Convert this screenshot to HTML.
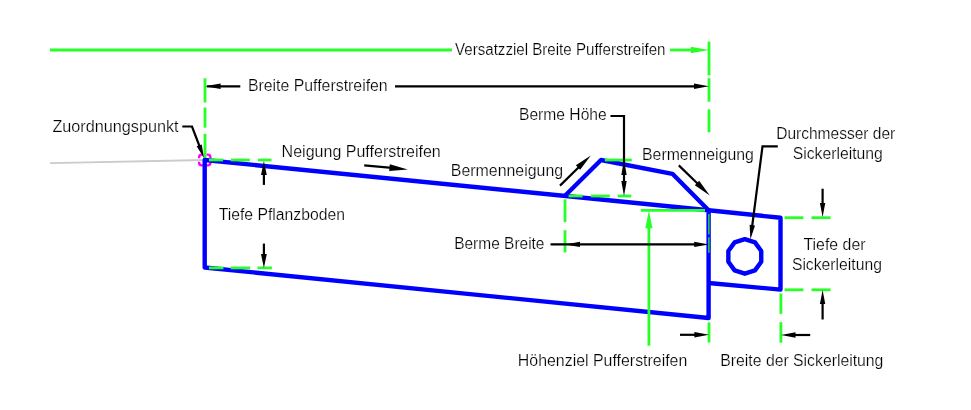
<!DOCTYPE html>
<html><head><meta charset="utf-8"><style>
html,body{margin:0;padding:0;background:#fff;}
svg{display:block;}
text{font-family:"Liberation Sans",sans-serif;font-size:16px;fill:#000000;stroke:#fff;stroke-width:0.22px;paint-order:fill stroke;}
</style></head><body>
<svg width="971" height="410" viewBox="0 0 971 410">
<rect width="971" height="410" fill="#fff"/>
<line x1="50" y1="163.2" x2="205" y2="160" stroke="#cbcbcb" stroke-width="1.8" />
<path d="M199.1,158.2 L199.1,157.2 Q199.1,154.6 201.7,154.6 L202.95,154.6 M206.55,154.6 L207.8,154.6 Q210.4,154.6 210.4,157.2 L210.4,158.2 M210.4,161.8 L210.4,162.8 Q210.4,165.4 207.8,165.4 L206.55,165.4 M202.95,165.4 L201.7,165.4 Q199.1,165.4 199.1,162.8 L199.1,161.8" fill="none" stroke="#ff00ff" stroke-width="2.4"/>
<line x1="50" y1="50" x2="452" y2="50" stroke="#28ff28" stroke-width="2.8" />
<line x1="670" y1="50" x2="692" y2="50" stroke="#28ff28" stroke-width="2.8" />
<path transform="translate(709.00,50.00) rotate(0.00)" d="M0,0 L-18.20,-3.2 L-18.20,3.2 Z" fill="#28ff28"/>
<line x1="709" y1="41.6" x2="709" y2="75.3" stroke="#28ff28" stroke-width="2.8" />
<line x1="709" y1="78.2" x2="709" y2="101.7" stroke="#28ff28" stroke-width="2.8" />
<line x1="709" y1="109.4" x2="709" y2="132.2" stroke="#28ff28" stroke-width="2.8" />
<line x1="205" y1="78.3" x2="205" y2="102.5" stroke="#28ff28" stroke-width="2.8" />
<line x1="205" y1="107.5" x2="205" y2="127.7" stroke="#28ff28" stroke-width="2.8" />
<line x1="205" y1="133.9" x2="205" y2="158.5" stroke="#28ff28" stroke-width="2.8" />
<polygon points="204.7,160 708.6,210.3 708.6,318 204.7,267.5" fill="none" stroke="#0000ff" stroke-width="4.4" stroke-linejoin="round" />
<polyline points="565,195.7 601,160 672.4,173.8 708.6,210.3" fill="none" stroke="#0000ff" stroke-width="4.4" stroke-linejoin="round" />
<polyline points="708.6,210.3 780.5,217.8 780.5,289.6 708.6,283" fill="none" stroke="#0000ff" stroke-width="4.4" stroke-linejoin="round" />
<polygon points="744.8,239.1 734.63,242.4 728.35,251.05 728.35,261.75 734.63,270.4 744.8,273.7 754.97,270.4 761.25,261.75 761.25,251.05 754.97,242.4" fill="none" stroke="#0000ff" stroke-width="4.4" stroke-linejoin="round" />
<line x1="209" y1="160" x2="223" y2="160" stroke="#28ff28" stroke-width="2.8" />
<line x1="230.9" y1="160" x2="249.8" y2="160" stroke="#28ff28" stroke-width="2.8" />
<line x1="258" y1="160" x2="271.5" y2="160" stroke="#28ff28" stroke-width="2.8" />
<line x1="209" y1="267.9" x2="223.5" y2="267.9" stroke="#28ff28" stroke-width="2.8" />
<line x1="230.7" y1="267.9" x2="250.2" y2="267.9" stroke="#28ff28" stroke-width="2.8" />
<line x1="257.5" y1="267.9" x2="271.9" y2="267.9" stroke="#28ff28" stroke-width="2.8" />
<line x1="568.6" y1="196" x2="582.7" y2="196" stroke="#28ff28" stroke-width="2.8" />
<line x1="590.9" y1="196" x2="609.8" y2="196" stroke="#28ff28" stroke-width="2.8" />
<line x1="617.7" y1="196" x2="631.3" y2="196" stroke="#28ff28" stroke-width="2.8" />
<line x1="604.8" y1="160" x2="631.8" y2="160" stroke="#28ff28" stroke-width="2.8" />
<line x1="784.6" y1="217.7" x2="803.4" y2="217.7" stroke="#28ff28" stroke-width="2.8" />
<line x1="811.5" y1="217.7" x2="830.6" y2="217.7" stroke="#28ff28" stroke-width="2.8" />
<line x1="784.6" y1="289.8" x2="803.4" y2="289.8" stroke="#28ff28" stroke-width="2.8" />
<line x1="811.5" y1="289.8" x2="830.6" y2="289.8" stroke="#28ff28" stroke-width="2.8" />
<line x1="640.8" y1="210.4" x2="705" y2="210.4" stroke="#28ff28" stroke-width="2.8" />
<line x1="565" y1="199.4" x2="565" y2="222.1" stroke="#28ff28" stroke-width="2.8" />
<line x1="565" y1="230.2" x2="565" y2="252.4" stroke="#28ff28" stroke-width="2.8" />
<line x1="708.9" y1="213.9" x2="708.9" y2="234.4" stroke="#28ff28" stroke-width="1.3" />
<line x1="708.9" y1="237.3" x2="708.9" y2="252.7" stroke="#28ff28" stroke-width="1.3" />
<line x1="709" y1="322.4" x2="709" y2="342.5" stroke="#28ff28" stroke-width="2.8" />
<line x1="780.9" y1="293.5" x2="780.9" y2="313.9" stroke="#28ff28" stroke-width="2.8" />
<line x1="780.9" y1="322.2" x2="780.9" y2="342.7" stroke="#28ff28" stroke-width="2.8" />
<line x1="648.9" y1="226" x2="648.9" y2="345.7" stroke="#28ff28" stroke-width="2.8" />
<path transform="translate(648.90,210.40) rotate(-90.00)" d="M0,0 L-17.90,-3.6 L-17.90,3.6 Z" fill="#28ff28"/>
<line x1="207" y1="86.3" x2="240.3" y2="86.3" stroke="#000000" stroke-width="2.2" />
<path transform="translate(205.00,86.30) rotate(180.00)" d="M0,0 L-15.60,-2.7 L-15.60,2.7 Z" fill="#000000"/>
<line x1="395" y1="86.3" x2="696" y2="86.3" stroke="#000000" stroke-width="2.2" />
<path transform="translate(709.00,86.30) rotate(0.00)" d="M0,0 L-15.00,-2.7 L-15.00,2.7 Z" fill="#000000"/>
<polyline points="182.3,126.5 192,126.5 200,147.5" fill="none" stroke="#000000" stroke-width="2.2" stroke-linejoin="miter" />
<path transform="translate(204.00,158.00) rotate(69.15)" d="M0,0 L-13.48,-2.7 L-13.48,2.7 Z" fill="#000000"/>
<line x1="263.9" y1="184.9" x2="263.9" y2="170" stroke="#000000" stroke-width="2.2" />
<path transform="translate(263.90,161.00) rotate(-90.00)" d="M0,0 L-14.00,-2.9 L-14.00,2.9 Z" fill="#000000"/>
<line x1="263.9" y1="243.6" x2="263.9" y2="256" stroke="#000000" stroke-width="2.2" />
<path transform="translate(263.90,268.00) rotate(90.00)" d="M0,0 L-14.00,-2.9 L-14.00,2.9 Z" fill="#000000"/>
<line x1="364.2" y1="165.3" x2="392" y2="167.9" stroke="#000000" stroke-width="2.2" />
<path transform="translate(407.80,169.40) rotate(5.62)" d="M0,0 L-18.39,-3.3 L-18.39,3.3 Z" fill="#000000"/>
<line x1="560" y1="185.6" x2="579" y2="167" stroke="#000000" stroke-width="2.2" />
<path transform="translate(590.80,155.50) rotate(-43.15)" d="M0,0 L-17.55,-3.1 L-17.55,3.1 Z" fill="#000000"/>
<polyline points="610.5,116 624,116 624,165" fill="none" stroke="#000000" stroke-width="2.2" stroke-linejoin="miter" />
<line x1="624" y1="170" x2="624" y2="185" stroke="#000000" stroke-width="2.2" />
<path transform="translate(624.00,160.00) rotate(-90.00)" d="M0,0 L-15.00,-2.7 L-15.00,2.7 Z" fill="#000000"/>
<path transform="translate(624.00,196.00) rotate(90.00)" d="M0,0 L-15.00,-2.7 L-15.00,2.7 Z" fill="#000000"/>
<line x1="678.8" y1="165.4" x2="698" y2="184" stroke="#000000" stroke-width="2.2" />
<path transform="translate(709.80,195.40) rotate(44.09)" d="M0,0 L-17.82,-3.1 L-17.82,3.1 Z" fill="#000000"/>
<polyline points="777.8,146.4 762.5,146.4 752.2,226" fill="none" stroke="#000000" stroke-width="2.2" stroke-linejoin="miter" />
<path transform="translate(750.40,239.60) rotate(97.52)" d="M0,0 L-14.52,-2.7 L-14.52,2.7 Z" fill="#000000"/>
<line x1="550.5" y1="244.4" x2="697" y2="244.4" stroke="#000000" stroke-width="2.2" />
<path transform="translate(565.00,244.40) rotate(180.00)" d="M0,0 L-15.00,-2.7 L-15.00,2.7 Z" fill="#000000"/>
<path transform="translate(709.00,244.40) rotate(0.00)" d="M0,0 L-14.80,-2.7 L-14.80,2.7 Z" fill="#000000"/>
<line x1="822.6" y1="188.7" x2="822.6" y2="205" stroke="#000000" stroke-width="2.2" />
<path transform="translate(822.60,217.00) rotate(90.00)" d="M0,0 L-14.00,-2.7 L-14.00,2.7 Z" fill="#000000"/>
<line x1="822.6" y1="319.5" x2="822.6" y2="302" stroke="#000000" stroke-width="2.2" />
<path transform="translate(822.60,290.00) rotate(-90.00)" d="M0,0 L-14.00,-2.7 L-14.00,2.7 Z" fill="#000000"/>
<line x1="680" y1="334.8" x2="696" y2="334.8" stroke="#000000" stroke-width="2.2" />
<path transform="translate(709.00,334.80) rotate(0.00)" d="M0,0 L-14.60,-2.7 L-14.60,2.7 Z" fill="#000000"/>
<line x1="810.2" y1="335" x2="794" y2="335" stroke="#000000" stroke-width="2.2" />
<path transform="translate(781.00,335.00) rotate(180.00)" d="M0,0 L-14.50,-2.7 L-14.50,2.7 Z" fill="#000000"/>
<g style="filter:grayscale(1)">
<text x="455.00" y="55.3" textLength="210.50" lengthAdjust="spacingAndGlyphs">Versatzziel Breite Pufferstreifen</text>
<text x="247.90" y="90.8" textLength="139.80" lengthAdjust="spacingAndGlyphs">Breite Pufferstreifen</text>
<text x="52.40" y="131.9" textLength="126.20" lengthAdjust="spacingAndGlyphs">Zuordnungspunkt</text>
<text x="281.60" y="156.9" textLength="159.20" lengthAdjust="spacingAndGlyphs">Neigung Pufferstreifen</text>
<text x="519.00" y="119.8" textLength="87.70" lengthAdjust="spacingAndGlyphs">Berme Höhe</text>
<text x="450.80" y="175.5" textLength="112.30" lengthAdjust="spacingAndGlyphs">Bermenneigung</text>
<text x="642.00" y="159.5" textLength="111.90" lengthAdjust="spacingAndGlyphs">Bermenneigung</text>
<text x="776.20" y="138.5" textLength="119.10" lengthAdjust="spacingAndGlyphs">Durchmesser der</text>
<text x="792.70" y="159.2" textLength="90.20" lengthAdjust="spacingAndGlyphs">Sickerleitung</text>
<text x="218.70" y="219.8" textLength="126.20" lengthAdjust="spacingAndGlyphs">Tiefe Pflanzboden</text>
<text x="454.20" y="248.9" textLength="90.30" lengthAdjust="spacingAndGlyphs">Berme Breite</text>
<text x="803.50" y="249.8" textLength="62.00" lengthAdjust="spacingAndGlyphs">Tiefe der</text>
<text x="791.90" y="270" textLength="90.00" lengthAdjust="spacingAndGlyphs">Sickerleitung</text>
<text x="517.80" y="365.5" textLength="169.50" lengthAdjust="spacingAndGlyphs">Höhenziel Pufferstreifen</text>
<text x="720.30" y="365.5" textLength="163.10" lengthAdjust="spacingAndGlyphs">Breite der Sickerleitung</text>
</g>
</svg>
</body></html>
